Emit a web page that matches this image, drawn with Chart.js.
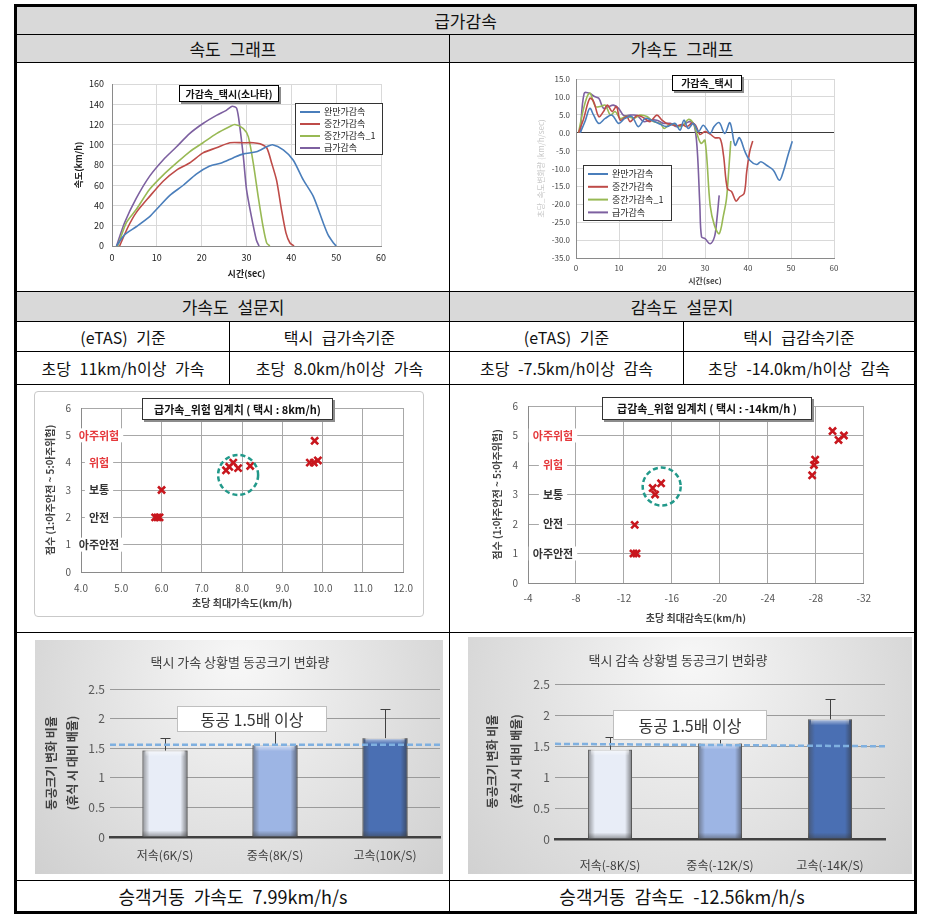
<!DOCTYPE html>
<html><head><meta charset="utf-8">
<script src="https://cdn.jsdelivr.net/npm/chart.js@4/dist/chart.umd.min.js"></script>
<style>
body{margin:0;background:#fff;font-family:"Noto Sans CJK KR","Noto Sans",sans-serif;}
#page{position:relative;width:929px;height:924px;overflow:hidden;background:#fff;}
.cell{position:absolute;box-sizing:border-box;display:flex;align-items:center;justify-content:center;font-size:17px;color:#111;word-spacing:5px;white-space:nowrap;}
.gray{background:#d9d9d9;}
.hl{position:absolute;height:1px;background:#000;}
.vl{position:absolute;width:1px;background:#000;}
canvas{position:absolute;}
.frame{position:absolute;box-sizing:border-box;border:3px solid #000;}
.sbox{position:absolute;box-sizing:border-box;border:1px solid #c9c9c9;border-radius:4px;}
</style></head>
<body><div id="page">
<div class="frame" style="left:14px;top:4px;width:903px;height:910px;"></div>
<div class="cell gray" style="left:17px;top:7px;width:897px;height:27px;">급가감속</div>
<div class="hl" style="left:17px;top:34px;width:897px;"></div>
<div class="cell gray" style="left:17px;top:35px;width:432px;height:27px;">속도 그래프</div>
<div class="cell gray" style="left:450px;top:35px;width:464px;height:27px;">가속도 그래프</div>
<div class="hl" style="left:17px;top:62px;width:897px;"></div>
<div class="hl" style="left:17px;top:291px;width:897px;"></div>
<div class="cell gray" style="left:17px;top:292px;width:432px;height:29px;">가속도 설문지</div>
<div class="cell gray" style="left:450px;top:292px;width:464px;height:29px;">감속도 설문지</div>
<div class="hl" style="left:17px;top:321px;width:897px;"></div>
<div class="cell" style="left:17px;top:322px;width:212px;height:29px;font-size:16px;">(eTAS) 기준</div>
<div class="cell" style="left:230px;top:322px;width:219px;height:29px;font-size:16px;">택시 급가속기준</div>
<div class="cell" style="left:450px;top:322px;width:233px;height:29px;font-size:16px;">(eTAS) 기준</div>
<div class="cell" style="left:684px;top:322px;width:230px;height:29px;font-size:16px;">택시 급감속기준</div>
<div class="hl" style="left:17px;top:351px;width:897px;"></div>
<div class="cell" style="left:17px;top:352px;width:212px;height:32px;font-size:16px;">초당 11km/h이상 가속</div>
<div class="cell" style="left:230px;top:352px;width:219px;height:32px;font-size:16px;">초당 8.0km/h이상 가속</div>
<div class="cell" style="left:450px;top:352px;width:233px;height:32px;font-size:16px;">초당 -7.5km/h이상 감속</div>
<div class="cell" style="left:684px;top:352px;width:230px;height:32px;font-size:16px;">초당 -14.0km/h이상 감속</div>
<div class="hl" style="left:17px;top:384px;width:897px;"></div>
<div class="vl" style="left:229px;top:322px;height:62px;"></div>
<div class="vl" style="left:683px;top:322px;height:62px;"></div>
<div class="vl" style="left:449px;top:35px;height:876px;"></div>
<div class="hl" style="left:17px;top:632px;width:897px;"></div>
<div class="hl" style="left:17px;top:880px;width:897px;"></div>
<div class="cell" style="left:17px;top:881px;width:432px;height:30px;font-size:18px;">승객거동 가속도 7.99km/h/s</div>
<div class="cell" style="left:450px;top:881px;width:464px;height:30px;font-size:18px;">승객거동 감속도 -12.56km/h/s</div>

<div class="sbox" style="left:34px;top:391px;width:390px;height:226px;"></div>

<canvas id="cSpeed" width="320" height="215" style="left:72px;top:70px;"></canvas>
<canvas id="cAccel" width="310" height="222" style="left:535px;top:68px;"></canvas>
<canvas id="cScA" width="388" height="224" style="left:35px;top:392px;"></canvas>
<canvas id="cScD" width="400" height="238" style="left:480px;top:390px;"></canvas>
<canvas id="cBarA" width="408" height="234" style="left:35px;top:640px;"></canvas>
<canvas id="cBarD" width="444" height="237" style="left:468px;top:637px;"></canvas>
</div>
<script>
// ================= DATA =================
const seriesNames = ['완만가감속','중간가감속','중간가감속_1','급가감속'];
const seriesColors = ['#4a7ebb','#be4b48','#98b954','#7d60a0'];

// speed (time sec, km/h)
const speedSlow = [[1,0],[2.8,11],[5.4,19],[8.4,29],[9.9,36],[12.9,50],[15.9,60],[18.8,71],[21.8,79],[24.4,82],[27,87],[29.3,91],[32.2,93],[34.5,98],[35.8,100],[38.2,95],[40.4,85],[42.7,65],[44.9,49],[47.1,23],[48.2,11],[49.4,3],[50,0]];
const speedMid = [[1.7,0],[3.6,19],[5.4,33],[8.4,49],[11.4,64],[14.4,75],[17.3,82],[20.3,92],[23.3,97],[26.3,102],[29.3,102],[31.5,102],[33,101],[34.5,97],[35.6,82],[36.7,65],[37.8,36],[38.8,13],[39.7,3],[40.6,0]];
const speedMid1 = [[1.3,0],[3.2,23],[5.4,36],[8.4,56],[11.4,70],[14.4,82],[17.3,93],[20.3,102],[23.3,111],[26.3,118],[27.4,120],[29.3,116],[30.4,108],[31.5,82],[32.6,49],[33.7,19],[34.5,3],[35.2,0]];
const speedHard = [[1,0],[2.8,23],[5.4,47],[8.4,69],[11.4,85],[14.4,98],[17.3,111],[20.3,121],[23.3,129],[25.5,134],[26.8,138],[27.8,136],[28.5,118],[29.3,88],[30,56],[31.1,29],[32.2,6],[32.8,0]];

// acceleration (time sec, km/h/sec)
const accSlow = [[1,0],[2.2,3.5],[3.2,6.8],[4.1,4.9],[5.3,2.6],[6.8,4],[8.4,4.9],[9.9,2.6],[11.4,4],[13,4.5],[14.5,1.7],[16.1,4],[17.6,3.5],[19.2,2.6],[21.1,1.7],[23,2.6],[24.2,0.7],[25.1,3.5],[26.1,1.2],[27.3,2.6],[28.5,0.3],[29.6,2.1],[31.2,-0.2],[32.1,1.7],[33.3,2.8],[34.6,-0.2],[35.8,2.8],[37,-3.5],[38,-1.4],[39.3,-5.3],[40.4,-7.7],[42,-8.9],[43,-8.1],[44.3,-9.1],[45.9,-10.5],[47.3,-13.3],[48.2,-10.9],[49.3,-6.3],[50.3,-2.4]];
const accMid = [[0.6,0],[1.8,4],[3.2,9.6],[4.1,8.7],[5.3,4.5],[6.4,5.9],[7.3,7.7],[8.4,5.9],[9.4,7.3],[10.3,3.5],[11.8,4.5],[12.6,3.1],[14.2,4.8],[15.7,4.2],[17.2,3.1],[18.8,4.9],[20,3.5],[21.1,2.6],[22.3,2.3],[23.4,1.9],[24.6,2.3],[25.8,1.7],[26.9,2.6],[27.8,2.1],[28.8,-0.5],[30,0.3],[31.2,-0.4],[32.3,-1.4],[33.5,-1.6],[34.3,-6.3],[35.2,-15.6],[36.2,-16.5],[37.2,-19.1],[38.1,-17.9],[39.1,-17],[39.7,-10.9],[40.4,-5.3],[41.1,-2.3]];
const accMid1 = [[0.6,0],[1.6,5.9],[2.6,10.1],[3.3,11],[4.5,7.3],[5.6,7.3],[6.8,7.7],[8,4.9],[9.1,5.9],[10.3,4],[11.8,4.6],[13.4,4],[14.9,4.9],[16.5,4.5],[18,3.1],[19.6,2.6],[20.5,1.2],[21.5,2.1],[22.7,2.3],[23.8,1.7],[25,2.1],[26.1,3.7],[27.3,2.6],[28.1,-0.2],[29.1,-3],[30,-2.1],[31.2,-20.3],[32.2,-25.9],[33.3,-28.2],[34.3,-23],[35,-18.4],[35.6,-9.1],[36,-2.3]];
const accHard = [[1,0],[1.9,11],[3.2,11],[4.3,10.1],[5.3,9.6],[6.4,6.8],[7.6,7.3],[8.7,7.7],[9.9,6.8],[11.1,4.8],[12.6,4.9],[14.2,4.8],[15.7,3.1],[17.2,3.5],[18.8,3.5],[20.3,2.6],[21.9,2.6],[23.4,1.7],[25,2.3],[26.5,3.1],[27.5,2.1],[28.2,-4.9],[28.8,-20.3],[29.2,-29.1],[30,-29.6],[31.2,-31],[32.2,-29.1],[32.7,-24.9],[33.3,-17.5]];

// risk-level survey scatter
const riskLevels = [1,2,3,4,5];
const riskNames = ['아주안전','안전','보통','위험','아주위험'];
const riskColors = ['#333333','#333333','#333333','#e5383b','#e5383b'];
const accMaxX = [5.84,5.9,5.95,6.0,7.6,7.68,7.78,7.9,8.2,9.68,9.78,9.88,9.8];
const accScore = [2,2,2,3,3.72,3.85,4.0,3.8,3.88,4.0,4.0,4.08,4.8];
const decMaxX = [-12.9,-12.8,-13.05,-14.4,-14.6,-15.1,-27.7,-27.85,-27.95,-29.4,-29.9,-30.35];
const decScore = [1.97,1.0,1.0,3.22,3.0,3.38,3.65,4.0,4.18,5.15,4.85,5.0];
const accCircle = {x:7.9, y:3.55};
const decCircle = {x:-15.15, y:3.27};

// pupil size change
const pupilCatsAcc = ['저속(6K/S)','중속(8K/S)','고속(10K/S)'];
const pupilAcc = [1.46,1.55,1.67];
const pupilAccErr = [0.22,0.25,0.5];
const pupilCatsDec = ['저속(-8K/S)','중속(-12K/S)','고속(-14K/S)'];
const pupilDec = [1.44,1.54,1.93];
const pupilDecErr = [0.21,0.2,0.33];
const barColors = ['#e8edf7','#9db5e4','#4a6fb3'];
const thresholdAcc = [1.56,1.56];
const thresholdDec = [1.535,1.495];

// ================= HELPERS =================
const FONT = '"Noto Sans CJK KR","Noto Sans",sans-serif';
Chart.defaults.font.family = FONT;
const toXY = a => a.map(p => ({x:p[0], y:p[1]}));

function boxText(ctx, b){
  ctx.save();
  if (b.shadow) { ctx.fillStyle = '#8c8c8c'; ctx.fillRect(b.x+2, b.y+2, b.w, b.h); }
  ctx.fillStyle = '#fff'; ctx.fillRect(b.x, b.y, b.w, b.h);
  ctx.strokeStyle = b.stroke || '#000'; ctx.lineWidth = 1;
  ctx.strokeRect(b.x+0.5, b.y+0.5, b.w-1, b.h-1);
  ctx.fillStyle = b.color || '#111'; ctx.font = b.font;
  ctx.textAlign = 'center'; ctx.textBaseline = 'middle';
  ctx.fillText(b.text, b.x + b.w/2, b.y + b.h/2 + 0.5);
  ctx.restore();
}

const overlay = {
  id:'overlay',
  beforeDraw(chart, a, o){
    if (!o.bg) return;
    const {ctx, width, height} = chart;
    ctx.save();
    const g = ctx.createRadialGradient(width*0.5, height*0.1, 10, width*0.5, height*0.35, width*0.8);
    g.addColorStop(0,'#f6f6f6'); g.addColorStop(1,'#c6c6c6');
    ctx.fillStyle = g; ctx.fillRect(0,0,width,height);
    ctx.restore();
  },
  beforeDatasetsDraw(chart, a, o){
    if (!o.levels) return;
    const ctx = chart.ctx, ys = chart.scales.y, L = o.levels;
    ctx.save();
    ctx.font = 'bold 11px ' + FONT; ctx.textAlign = 'center'; ctx.textBaseline = 'middle';
    L.values.forEach((v,i)=>{
      const y = ys.getPixelForValue(v), x = chart.chartArea.left + L.dx;
      const w = ctx.measureText(L.names[i]).width + 8;
      ctx.fillStyle = '#fff'; ctx.fillRect(x - w/2, y - 7, w, 14);
      ctx.fillStyle = L.colors[i]; ctx.fillText(L.names[i], x, y);
    });
    ctx.restore();
  },
  afterDatasetsDraw(chart, a, o){
    const ctx = chart.ctx, xs = chart.scales.x, ys = chart.scales.y;
    ctx.save();
    if (o.bevel) {
      chart.getDatasetMeta(0).data.forEach(el=>{
        const l = el.x - el.width/2, r = el.x + el.width/2, t = el.y, b = el.base;
        let g = ctx.createLinearGradient(l,0,l+7,0);
        g.addColorStop(0,'rgba(70,70,70,0.55)'); g.addColorStop(1,'rgba(70,70,70,0)');
        ctx.fillStyle = g; ctx.fillRect(l, t, 7, b-t);
        g = ctx.createLinearGradient(r-7,0,r,0);
        g.addColorStop(0,'rgba(50,50,50,0)'); g.addColorStop(1,'rgba(50,50,50,0.6)');
        ctx.fillStyle = g; ctx.fillRect(r-7, t, 7, b-t);
        g = ctx.createLinearGradient(0,t,0,t+6);
        g.addColorStop(0,'rgba(255,255,255,0.6)'); g.addColorStop(1,'rgba(255,255,255,0)');
        ctx.fillStyle = g; ctx.fillRect(l+3, t, r-l-6, 6);
        g = ctx.createLinearGradient(0,b-6,0,b);
        g.addColorStop(0,'rgba(60,60,60,0)'); g.addColorStop(1,'rgba(60,60,60,0.45)');
        ctx.fillStyle = g; ctx.fillRect(l, b-6, r-l, 6);
      });
    }
    if (o.errors) {
      const meta = chart.getDatasetMeta(0), vals = chart.data.datasets[0].data;
      ctx.strokeStyle = '#404040'; ctx.lineWidth = 1;
      meta.data.forEach((el,i)=>{
        const yt = Math.round(ys.getPixelForValue(vals[i] + o.errors[i])) + 0.5, x = Math.round(el.x) + 0.5;
        ctx.beginPath(); ctx.moveTo(x, el.y); ctx.lineTo(x, yt);
        ctx.moveTo(x-5, yt); ctx.lineTo(x+5, yt); ctx.stroke();
      });
    }
    if (o.threshold) {
      const ca = chart.chartArea;
      ctx.strokeStyle = '#7fb0e0'; ctx.lineWidth = 2.5; ctx.setLineDash([6,3]);
      ctx.beginPath();
      ctx.moveTo(ca.left, ys.getPixelForValue(o.threshold[0]));
      ctx.lineTo(ca.right, ys.getPixelForValue(o.threshold[1]));
      ctx.stroke(); ctx.setLineDash([]);
    }
    if (o.circle) {
      ctx.strokeStyle = '#22998a'; ctx.lineWidth = 2.5; ctx.setLineDash([5,3]);
      ctx.beginPath();
      ctx.arc(xs.getPixelForValue(o.circle.x), ys.getPixelForValue(o.circle.y), o.circle.r, 0, Math.PI*2);
      ctx.stroke(); ctx.setLineDash([]);
    }
    if (o.legend) {
      const L = o.legend;
      ctx.fillStyle = '#fff'; ctx.fillRect(L.x, L.y, L.w, L.h);
      ctx.strokeStyle = '#333'; ctx.lineWidth = 1; ctx.strokeRect(L.x+0.5, L.y+0.5, L.w-1, L.h-1);
      ctx.font = L.font; ctx.textBaseline = 'middle'; ctx.textAlign = 'left';
      chart.data.datasets.forEach((ds,i)=>{
        const y = L.y + L.first + i*L.step;
        ctx.strokeStyle = ds.borderColor; ctx.lineWidth = 2;
        ctx.beginPath(); ctx.moveTo(L.x+5, y); ctx.lineTo(L.x+5+L.line, y); ctx.stroke();
        ctx.fillStyle = '#222'; ctx.fillText(ds.label, L.x+9+L.line, y);
      });
    }
    if (o.titleBox) boxText(ctx, o.titleBox);
    if (o.noteBox) boxText(ctx, o.noteBox);
    if (o.chartTitle) {
      const T = o.chartTitle;
      ctx.font = T.font; ctx.fillStyle = '#404040'; ctx.textAlign = 'center'; ctx.textBaseline = 'middle';
      ctx.fillText(T.text, T.x, T.y);
    }
    ctx.restore();
  }
};
Chart.register(overlay);

const base = {responsive:false, animation:false, devicePixelRatio:1, events:[]};
const noLegend = {legend:{display:false}, tooltip:{enabled:false}};

// ================= SPEED =================
new Chart(document.getElementById('cSpeed'), {
  type:'line',
  data:{datasets:[speedSlow,speedMid,speedMid1,speedHard].map((s,i)=>({
    label:seriesNames[i], data:toXY(s), borderColor:seriesColors[i], borderWidth:1.6, pointRadius:0, tension:0.25, fill:false}))},
  options:{...base,
    layout:{padding:{left:0,right:11,top:14,bottom:0}},
    plugins:{...noLegend, overlay:{
      titleBox:{text:'가감속_택시(소나타)', x:107, y:15, w:100, h:17, font:'bold 10px '+FONT, shadow:true},
      legend:{x:223, y:33, w:88, h:52, first:9, step:12, line:20, font:'9px '+FONT}
    }},
    scales:{
      x:{type:'linear', min:0, max:60, ticks:{stepSize:10, padding:6, font:{size:9}, color:'#222'},
         grid:{color:'#d9d9d9', drawTicks:false}, border:{color:'#8a8a8a'},
         title:{display:true, text:'시간(sec)', font:{size:9, weight:'bold'}, color:'#222', padding:{top:0,bottom:6}},
         afterFit:s=>{s.height=39;}},
      y:{min:0, max:160, ticks:{stepSize:20, padding:8, font:{size:9}, color:'#222'},
         grid:{color:'#d9d9d9', drawTicks:false}, border:{color:'#8a8a8a'},
         title:{display:true, text:'속도(km/h)', font:{size:9, weight:'bold'}, color:'#222', padding:{top:1}},
         afterFit:s=>{s.width=40;}}
    }}
});

// ================= ACCEL =================
new Chart(document.getElementById('cAccel'), {
  type:'line',
  data:{datasets:[accSlow,accMid,accMid1,accHard].map((s,i)=>({
    label:seriesNames[i], data:toXY(s), borderColor:seriesColors[i], borderWidth:1.6, pointRadius:0, tension:0.35, fill:false}))},
  options:{...base,
    layout:{padding:{left:0,right:11,top:11,bottom:0}},
    plugins:{...noLegend, overlay:{
      titleBox:{text:'가감속_택시', x:137, y:7, w:70, h:16, font:'bold 10px '+FONT, shadow:true},
      legend:{x:48, y:97, w:89, h:56, first:9, step:12.8, line:20, font:'9px '+FONT}
    }},
    scales:{
      x:{type:'linear', min:0, max:60, ticks:{stepSize:10, padding:5, font:{size:8}, color:'#444'},
         grid:{color:'#d9d9d9', drawTicks:false}, border:{color:'#8a8a8a'},
         title:{display:true, text:'시간(sec)', font:{size:8, weight:'bold'}, color:'#444', padding:{top:0,bottom:4}},
         afterFit:s=>{s.height=32;}},
      y:{min:-35, max:15, ticks:{stepSize:5, padding:6, font:{size:8}, color:'#444', callback:v=>v.toFixed(1)},
         grid:{color:c=>c.tick && c.tick.value===0 ? '#3a3a3a' : '#d9d9d9', drawTicks:false}, border:{color:'#8a8a8a'},
         title:{display:true, text:'초당_속도변화량 (km/h/sec)', font:{size:8}, color:'#c8c8c8', padding:{top:1}},
         afterFit:s=>{s.width=41;}}
    }}
});

// ================= SCATTERS =================
function scatterCfg(xv, yv, xOpts, ov, dims){
  return {
    type:'scatter',
    data:{datasets:[{data:xv.map((x,i)=>({x, y:yv[i]})), pointStyle:'crossRot', pointRadius:5,
      borderColor:'#c8161d', backgroundColor:'#c8161d', pointBorderWidth:2.6}]},
    options:{...base,
      layout:{padding:{left:0,right:dims.right,top:11,bottom:0}},
      plugins:{...noLegend, overlay:ov},
      scales:{
        x:Object.assign({type:'linear', grid:{color:'#a8a8a8', drawTicks:false}, border:{color:'#8a8a8a'},
          title:{display:true, text:dims.xTitle, font:{size:10, weight:'bold'}, color:'#444', padding:{top:0,bottom:dims.xTitlePad}},
          afterFit:s=>{s.height=dims.xh;}}, xOpts),
        y:{min:0, max:6, ticks:{stepSize:1, padding:10, font:{size:10}, color:'#555'},
          grid:{color:'#a8a8a8', drawTicks:false}, border:{color:'#8a8a8a'},
          title:{display:true, text:'점수 (1:아주안전 ~ 5:아주위험)', font:{size:10, weight:'bold'}, color:'#444', padding:{top:dims.yTitlePad}},
          afterFit:s=>{s.width=dims.yw;}}
      }}
  };
}
new Chart(document.getElementById('cScA'), scatterCfg(accMaxX, accScore,
  {min:4, max:12, ticks:{stepSize:1, padding:10, font:{size:10}, color:'#555', callback:v=>v.toFixed(1)}},
  {levels:{values:riskLevels, names:riskNames, colors:riskColors, dx:18},
   circle:{x:accCircle.x, y:accCircle.y, r:20},
   titleBox:{text:'급가속_위험 임계치 ( 택시 : 8km/h)', x:107, y:6, w:191, h:22, font:'bold 11px '+FONT, shadow:true, stroke:'#333'}},
  {right:16, xh:44, yw:46, xTitle:'초당 최대가속도(km/h)', xTitlePad:7, yTitlePad:9}));

new Chart(document.getElementById('cScD'), scatterCfg(decMaxX, decScore,
  {min:-32, max:-4, reverse:true, ticks:{stepSize:4, padding:9, font:{size:10}, color:'#555'}},
  {levels:{values:riskLevels, names:riskNames, colors:riskColors, dx:25},
   circle:{x:decCircle.x, y:decCircle.y, r:19},
   titleBox:{text:'급감속_위험 임계치 ( 택시 : -14km/h )', x:122, y:7, w:210, h:23, font:'bold 11px '+FONT, shadow:true, stroke:'#333'}},
  {right:12, xh:45, yw:48, xTitle:'초당 최대감속도(km/h)', xTitlePad:4, yTitlePad:11}));

// ================= PUPIL BARS =================
function barCfg(cats, vals, errs, thr, ov, dims){
  return {
    type:'bar',
    data:{labels:cats, datasets:[{data:vals, backgroundColor:barColors, borderColor:'#8a8a8a', borderWidth:1,
      categoryPercentage:1, barPercentage:dims.barPct}]},
    options:{...base,
      layout:{padding:{left:0,right:dims.right,top:dims.top,bottom:0}},
      plugins:{...noLegend, overlay:Object.assign({bg:true, bevel:true, errors:errs, threshold:thr}, ov)},
      scales:{
        x:{grid:{display:false}, border:{color:'#404040', width:2.5},
           ticks:{padding:dims.xpad, font:{size:12}, color:'#404040'}, afterFit:s=>{s.height=dims.xh;}},
        y:{min:0, max:2.5, ticks:{stepSize:0.5, padding:5, font:{size:12}, color:'#595959', callback:v=>String(v)},
           grid:{color:'#9a9a9a', drawTicks:false}, border:{display:false},
           title:{display:true, text:['동공크기 변화 비율','(휴식 시 대비 배율)'], font:{size:12, weight:'bold', lineHeight:dims.ylh}, color:'#404040', padding:{top:dims.ytp}},
           afterFit:s=>{s.width=dims.yw;}}
      }}
  };
}
new Chart(document.getElementById('cBarA'), barCfg(pupilCatsAcc, pupilAcc, pupilAccErr, thresholdAcc,
  {chartTitle:{text:'택시 가속 상황별 동공크기 변화량', x:205, y:22, font:'13px '+FONT},
   noteBox:{text:'동공 1.5배 이상', x:142, y:66, w:150, h:26, font:'16px '+FONT, stroke:'#bfbfbf', color:'#333'}},
  {right:3, top:49, xh:37, yw:75, xpad:3, ytp:6, ylh:1.75, barPct:0.41}));

new Chart(document.getElementById('cBarD'), barCfg(pupilCatsDec, pupilDec, pupilDecErr, thresholdDec,
  {chartTitle:{text:'택시 감속 상황별 동공크기 변화량', x:210, y:23, font:'13px '+FONT},
   noteBox:{text:'동공 1.5배 이상', x:145, y:73, w:154, h:30, font:'16px '+FONT, stroke:'#bfbfbf', color:'#333'}},
  {right:27, top:47, xh:35, yw:87, xpad:11, ytp:12, ylh:2.05, barPct:0.4}));
</script>
</body></html>
